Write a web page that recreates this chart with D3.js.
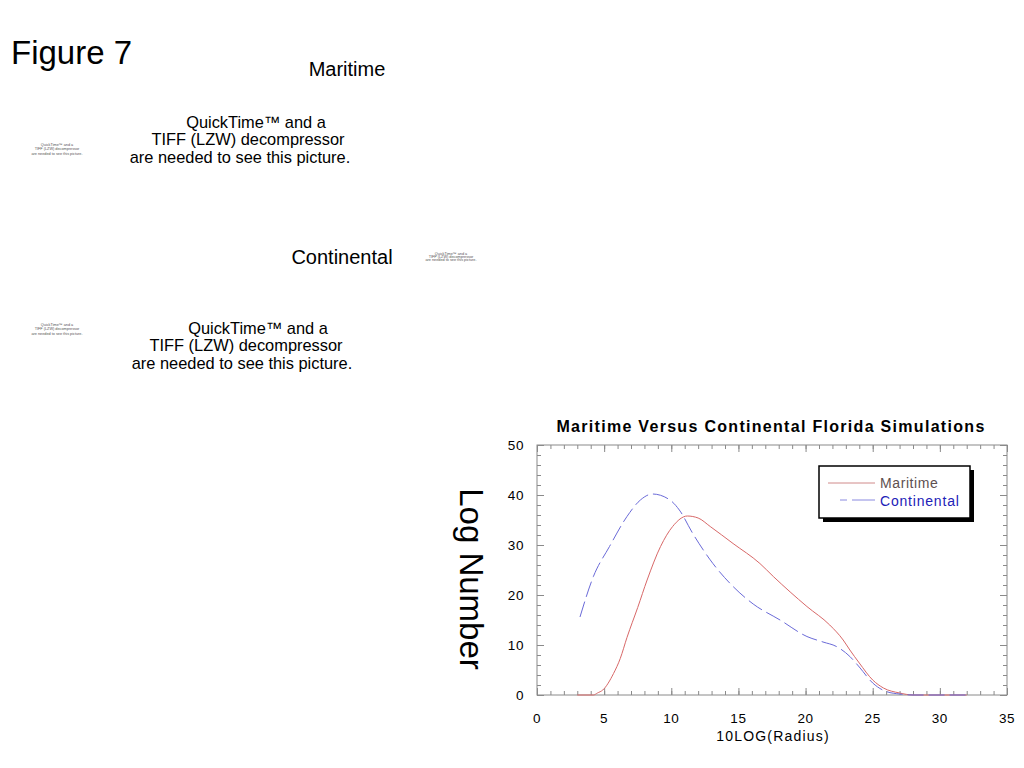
<!DOCTYPE html>
<html>
<head>
<meta charset="utf-8">
<script src="https://cdn.jsdelivr.net/npm/d3@7"></script>
<style>
  body { margin: 0; background: #fff; }
  text { font-family: "Liberation Sans", Arial, sans-serif; }
</style>
</head>
<body>
<script>
// chart data
const maritimeRadius = [3, 4.2, 4.5, 4.9, 5.7, 6.2, 6.7, 7.5, 8.2, 9.2, 10.1, 11.2, 12.0, 12.9, 14.6, 16.6, 17.6, 20.1, 21.8, 22.8, 23.3, 24.0, 25.0, 25.8, 27.0, 28, 32];
const maritimeLog    = [0, 0, 0.4, 1, 4.3, 7.3, 11.5, 17.5, 23, 29.7, 33.7, 35.8, 35.4, 33.7, 30.3, 26.3, 23.7, 17.7, 14, 11, 9, 6.4, 3, 1.4, 0.4, 0, 0];
const continentalRadius = [3.2, 4.2, 5.4, 6.7, 7.7, 8.6, 9.9, 10.6, 11.6, 13.1, 14.6, 16.1, 18.1, 20.1, 21.3, 22.3, 23.3, 24.0, 25.0, 26.0, 27.0, 28, 32];
const continentalLog    = [15.6, 23.7, 29.7, 35.7, 39, 40.2, 39, 37, 32.3, 26.3, 21.7, 18.2, 15, 11.7, 10.6, 9.7, 7.7, 5.6, 2.4, 0.7, 0.2, 0, 0];
const xTicks = [0, 5, 10, 15, 20, 25, 30, 35];
const yTicks = [0, 10, 20, 30, 40, 50];
const seriesNames = ["Maritime", "Continental"];
const qtLines = ["QuickTime\u2122 and a", "TIFF (LZW) decompressor", "are needed to see this picture."];

function main(){
    const svg = d3.select("body").append("svg")
        .attr("width", 1024)
        .attr("height", 768);

    // slide texts
    svg.append("text").attr("x", 11).attr("y", 64)
        .attr("font-size", "33px").text("Figure 7");
    svg.append("text").attr("x", 347).attr("y", 76).attr("text-anchor", "middle")
        .attr("font-size", "20px").text(seriesNames[0]);
    svg.append("text").attr("x", 342).attr("y", 264).attr("text-anchor", "middle")
        .attr("font-size", "20px").text(seriesNames[1]);

    // missing picture placeholders
    function placeholder(centers, baselines, size){
        qtLines.forEach((t, i) => {
            svg.append("text")
                .attr("x", centers[i]).attr("y", baselines[i])
                .attr("text-anchor", "middle")
                .attr("font-size", size + "px")
                .attr("fill", size > 10 ? "#000" : "#555")
                .text(t);
        });
    }
    placeholder([256, 248, 240], [128, 145, 163], 16.4);
    placeholder([258, 246, 242], [334, 351, 369], 16.4);
    placeholder([57, 57, 57], [146, 150, 155], 3.8);
    placeholder([57, 57, 57], [326, 330, 335], 3.8);
    placeholder([451, 451, 451], [255, 258, 261], 3.8);

    // plot
    const left = 537, right = 1007, top = 445, bottom = 695;
    const xScale = d3.scaleLinear().domain([0, 35]).range([left, right]);
    const yScale = d3.scaleLinear().domain([0, 50]).range([bottom, top]);

    svg.append("text")
        .attr("x", 771).attr("y", 432)
        .attr("text-anchor", "middle")
        .attr("font-size", "16px").attr("font-weight", "bold")
        .attr("letter-spacing", "1.3px")
        .text("Maritime Versus Continental Florida Simulations");

    const axisColor = "#8a8a8a";

    // ticks on all four sides, pointing in
    const g = svg.append("g");
    g.append("g").attr("transform", "translate(0," + bottom + ")")
        .call(d3.axisTop(xScale).ticks(35).tickSize(4).tickFormat(""));
    g.append("g").attr("transform", "translate(0," + bottom + ")")
        .call(d3.axisTop(xScale).tickValues(xTicks).tickSize(7).tickFormat(""));
    g.append("g").attr("transform", "translate(0," + top + ")")
        .call(d3.axisBottom(xScale).ticks(35).tickSize(4).tickFormat(""));
    g.append("g").attr("transform", "translate(0," + top + ")")
        .call(d3.axisBottom(xScale).tickValues(xTicks).tickSize(7).tickFormat(""));
    g.append("g").attr("transform", "translate(" + left + ",0)")
        .call(d3.axisRight(yScale).ticks(25).tickSize(4).tickFormat(""));
    g.append("g").attr("transform", "translate(" + left + ",0)")
        .call(d3.axisRight(yScale).tickValues(yTicks).tickSize(7).tickFormat(""));
    g.append("g").attr("transform", "translate(" + right + ",0)")
        .call(d3.axisLeft(yScale).ticks(25).tickSize(4).tickFormat(""));
    g.append("g").attr("transform", "translate(" + right + ",0)")
        .call(d3.axisLeft(yScale).tickValues(yTicks).tickSize(7).tickFormat(""));
    g.selectAll("path.domain").remove();
    g.selectAll("line").attr("stroke", axisColor);

    svg.append("rect")
        .attr("x", left).attr("y", top)
        .attr("width", right - left).attr("height", bottom - top)
        .attr("fill", "none").attr("stroke", axisColor);

    // tick labels
    svg.selectAll("text.xl").data(xTicks).enter().append("text")
        .attr("x", d => xScale(d)).attr("y", 723)
        .attr("text-anchor", "middle").attr("font-size", "13.5px")
        .attr("letter-spacing", "0.6px")
        .text(d => d);
    svg.selectAll("text.yl").data(yTicks).enter().append("text")
        .attr("x", 524).attr("y", d => yScale(d) + 5)
        .attr("text-anchor", "end").attr("font-size", "13.5px")
        .attr("letter-spacing", "0.6px")
        .text(d => d);

    svg.append("text")
        .attr("x", 773).attr("y", 741)
        .attr("text-anchor", "middle").attr("font-size", "14px")
        .attr("letter-spacing", "1.2px")
        .text("10LOG(Radius)");

    svg.append("text")
        .attr("transform", "translate(460,579) rotate(90)")
        .attr("text-anchor", "middle").attr("font-size", "33px")
        .text("Log Number");

    // lines
    const line = d3.line()
        .x(d => xScale(d[0]))
        .y(d => yScale(d[1]))
        .curve(d3.curveMonotoneX);

    svg.append("path")
        .datum(d3.zip(maritimeRadius, maritimeLog))
        .attr("fill", "none").attr("stroke", "#d86868").attr("stroke-width", 1)
        .attr("d", line);

    svg.append("path")
        .datum(d3.zip(continentalRadius, continentalLog))
        .attr("fill", "none").attr("stroke", "#6a6ad8").attr("stroke-width", 1)
        .attr("stroke-dasharray", "16,5")
        .attr("d", line);

    // legend
    const lg = svg.append("g").attr("transform", "translate(819,466)");
    lg.append("rect").attr("x", 4).attr("y", 4).attr("width", 151).attr("height", 52).attr("fill", "#000");
    lg.append("rect").attr("x", 0).attr("y", 0).attr("width", 151).attr("height", 52)
        .attr("fill", "#fff").attr("stroke", "#000").attr("stroke-width", 1.5);
    lg.append("line").attr("x1", 9).attr("x2", 56).attr("y1", 17).attr("y2", 17)
        .attr("stroke", "#d08a8a");
    lg.append("line").attr("x1", 21).attr("x2", 56).attr("y1", 34).attr("y2", 34)
        .attr("stroke", "#8a8ae0").attr("stroke-dasharray", "7,5,30");
    lg.append("text").attr("x", 61).attr("y", 22).attr("font-size", "14px")
        .attr("letter-spacing", "0.6px").attr("fill", "#5e5050").text(seriesNames[0]);
    lg.append("text").attr("x", 61).attr("y", 40).attr("font-size", "14px")
        .attr("letter-spacing", "0.8px").attr("fill", "#2222b8").text(seriesNames[1]);
}
main();
</script>
</body>
</html>
